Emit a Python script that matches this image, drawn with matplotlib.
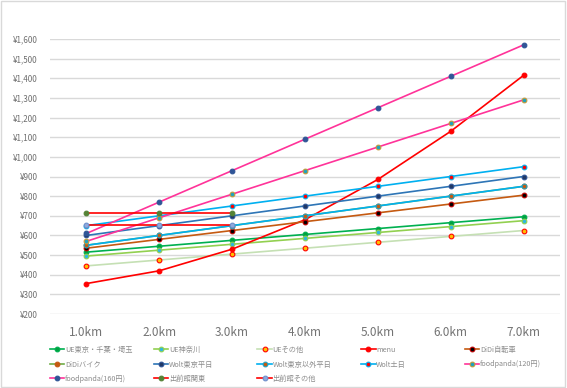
import matplotlib
matplotlib.use("Agg")
import matplotlib.pyplot as plt
from matplotlib.patches import Rectangle
from matplotlib.ticker import FuncFormatter

plt.rcParams['font.family'] = ['Noto Sans CJK JP', 'DejaVu Sans']

categories = ["1.0km", "2.0km", "3.0km", "4.0km", "5.0km", "6.0km", "7.0km"]

ue_tokyo = [515, 545, 575, 605, 635, 665, 695]
ue_kanagawa = [495, 525, 555, 585, 615, 645, 675]
ue_other = [445, 475, 505, 535, 565, 595, 625]
menu = [355, 420, 530, 680, 885, 1130, 1415]
didi_bike = [535, 580, 625, 670, 715, 760, 805]
didi_moto = [550, 600, 650, 700, 750, 800, 850]
wolt_tokyo = [600, 650, 700, 750, 800, 850, 900]
wolt_other = [550, 600, 650, 700, 750, 800, 850]
wolt_weekend = [650, 700, 750, 800, 850, 900, 950]
fp120 = [570, 690, 810, 930, 1050, 1170, 1290]
fp160 = [610, 770, 930, 1090, 1250, 1410, 1570]
demae_kanto = [715, 715, 715]
demae_other = [655, 655, 655]

series = [
    ("UE東京・千葉・埼玉", ue_tokyo, "#00b050", "#00a040", "#00b050"),
    ("UE神奈川", ue_kanagawa, "#92d050", "#2fb7e0", "#92d050"),
    ("UEその他", ue_other, "#c5e0b4", "#ffc000", "#ff0000"),
    ("menu", menu, "#ff0000", "#ff0000", "#ff0000"),
    ("DiDi自転車", didi_bike, "#c55a11", "#000000", "#c00000"),
    ("DiDiバイク", didi_moto, "#70ad47", "#c55a11", "#c55a11"),
    ("Wolt東京平日", wolt_tokyo, "#2e75b6", "#203864", "#2f5597"),
    ("Wolt東京以外平日", wolt_other, "#00b0f0", "#c55a11", "#1fa2c0"),
    ("Wolt土日", wolt_weekend, "#00b0f0", "#ff0000", "#00b0f0"),
    ("foodpanda(120円)", fp120, "#ff3399", "#1fa2c0", "#c59a3a"),
    ("foodpanda(160円)", fp160, "#ff3399", "#2f5597", "#2f5597"),
    ("出前館関東", demae_kanto, "#ff0000", "#548235", "#548235"),
    ("出前館その他", demae_other, "#ff0000", "#8faadc", "#6f8fcc"),
]

fig = plt.figure(figsize=(5.67, 3.88), dpi=100)
ax = fig.add_axes([50/567, (388-314)/388, 510/567, 275/388])

x_all = list(range(len(categories)))
lines = []
for name, vals, lc, mfc, mec in series:
    ln, = ax.plot(x_all[:len(vals)], vals, color=lc, lw=1.2, marker='o', markersize=3.4,
                  markerfacecolor=mfc, markeredgecolor=mec, markeredgewidth=0.8, label=name)
    lines.append(ln)

ax.set_xlim(-0.5, 6.5)
ax.set_ylim(200, 1600)
ax.set_yticks(range(200, 1601, 100))
ax.yaxis.set_major_formatter(FuncFormatter(lambda v, p: "¥{:,}".format(int(v))))
ax.set_xticks(x_all)
ax.set_xticklabels(categories)
ax.tick_params(axis='y', length=0, labelsize=5.8, labelcolor="#6f6f6f", pad=9)
ax.tick_params(axis='x', length=0, labelsize=8.5, labelcolor="#737373", pad=9)
ax.grid(axis='y', color="#d9d9d9", lw=1.0)
ax.set_axisbelow(True)
for s in ax.spines.values():
    s.set_visible(False)

# legend: 5 evenly spaced columns, entries in row-major order
ncol = 5
n = len(lines)
col_x0 = 50 / 567
col_w = 103.7 / 567
for c in range(ncol):
    idx = list(range(c, n, ncol))
    leg = fig.legend([lines[i] for i in idx], [lines[i].get_label() for i in idx],
                     loc='upper left', bbox_to_anchor=(col_x0 + c * col_w, 1 - 346 / 388),
                     ncol=1, frameon=False, fontsize=5.2,
                     handlelength=2.0, handletextpad=0.1, labelspacing=0.9,
                     borderaxespad=0, borderpad=0)
    for t in leg.get_texts():
        t.set_color("#8c8c8c")

fig.patches.append(Rectangle((0.001, 0.002), 0.996, 0.996, transform=fig.transFigure,
                             fill=False, edgecolor="#d9d9d9", lw=1.0))

fig.savefig("out.png", dpi=100, facecolor="white")
